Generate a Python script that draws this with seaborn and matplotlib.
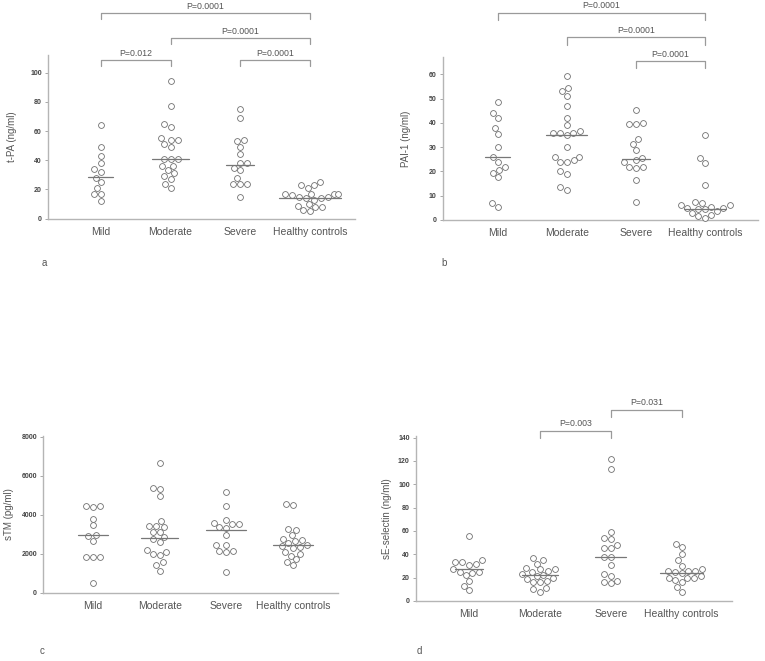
import numpy as np
import pandas as pd
import seaborn as sns
import matplotlib
matplotlib.use("Agg")
import matplotlib.pyplot as plt

groups = ["Mild", "Moderate", "Severe", "Healthy controls"]

# a: t-PA (ng/ml)
tpa_mild = [64, 49, 43, 38, 34, 32, 28, 25, 21, 17, 17, 12]
tpa_moderate = [94, 77, 65, 63, 55, 54, 54, 51, 49, 41, 41, 41, 36, 36, 33, 31, 29, 27, 24, 21]
tpa_severe = [75, 69, 54, 53, 49, 44, 38, 38, 35, 33, 28, 24, 24, 24, 15]
tpa_healthy = [25, 23, 23, 21, 17, 17, 17, 17, 16, 15, 15, 14, 14, 13, 10, 9, 8, 8, 6, 5]
tpa_median = [28.5, 41, 37, 14]

# b: PAI-1 (ng/ml)
pai_mild = [48.5, 44, 42, 38, 35.5, 30, 26, 24, 22, 20.5, 19.5, 17.5, 7, 5.5]
pai_moderate = [59.5, 54.5, 53, 51, 47, 42, 39, 36.5, 36, 36, 36, 35, 30, 26, 26, 24.5, 24, 24, 20, 19, 13.5, 12.5]
pai_severe = [45.5, 40, 39.5, 39.5, 33.5, 31.5, 29, 25.5, 24.5, 24, 22, 22, 21.5, 16.5, 7.5]
pai_healthy = [35, 25.5, 23.5, 14.5, 7.5, 7, 6, 6, 5.5, 5, 5, 4.5, 4.5, 3.5, 3, 2, 1.5, 1]
pai_median = [26, 35, 25, 4.7]

# c: sTM (pg/ml)
stm_mild = [4450, 4450, 4400, 3800, 3450, 2950, 2900, 2650, 1800, 1800, 1850, 500]
stm_moderate = [6650, 5350, 5300, 4950, 3650, 3400, 3400, 3350, 3100, 3100, 2850, 2750, 2600, 2200, 2100, 2000, 1950, 1550, 1400, 1100]
stm_severe = [5150, 4450, 3700, 3550, 3500, 3500, 3350, 3300, 2950, 2450, 2450, 2150, 2150, 2100, 1050]
stm_healthy = [4550, 4500, 3250, 3200, 2950, 2750, 2700, 2650, 2550, 2450, 2400, 2350, 2300, 2100, 2000, 1900, 1700, 1550, 1400]
stm_median = [2950, 2800, 3200, 2450]

# d: sE-selectin (ng/ml)
sel_mild = [56, 35, 33, 33, 32, 31, 27, 25, 25, 24, 22, 17, 13, 9]
sel_moderate = [37, 35, 32, 28, 27, 27, 26, 25, 23, 22, 21, 20, 19, 17, 16, 16, 11, 10, 8]
sel_severe = [122, 113, 59, 54, 53, 48, 45, 45, 38, 38, 31, 23, 21, 17, 16, 15]
sel_healthy = [49, 46, 40, 35, 30, 27, 26, 26, 26, 25, 24, 21, 20, 20, 20, 18, 16, 12, 8]
sel_median = [27, 22, 38, 24]


def long_df(*cols):
    rows = []
    for g, vals in zip(groups, cols):
        rows += [(g, v) for v in vals]
    return pd.DataFrame(rows, columns=["group", "value"])


sns.set_style("white")
plt.rcParams["font.family"] = ["Liberation Sans", "DejaVu Sans"]

GRAY = "#9a9a9a"
TXT = "#555555"

fig = plt.figure(figsize=(7.65, 6.61), dpi=100)

panels = [
    # data, medians, rect, xlim, ylim, yticks, ylabel, label_x, median half widths
    (long_df(tpa_mild, tpa_moderate, tpa_severe, tpa_healthy), tpa_median,
     [0.0627, 0.6691, 0.401, 0.2477], (-0.757, 3.64), (0, 112), np.arange(0, 101, 20),
     "t-PA (ng/ml)", -0.10, [0.18, 0.26, 0.2, 0.45]),
    (long_df(pai_mild, pai_moderate, pai_severe, pai_healthy), pai_median,
     [0.579, 0.6672, 0.4118, 0.2461], (-0.793, 3.77), (0, 67), np.arange(0, 61, 10),
     "PAI-1 (ng/ml)", -0.10, [0.18, 0.3, 0.2, 0.3]),
    (long_df(stm_mild, stm_moderate, stm_severe, stm_healthy), stm_median,
     [0.0566, 0.1036, 0.385, 0.2368], (-0.744, 3.67), (0, 8040), np.arange(0, 8001, 2000),
     "sTM (pg/ml)", -0.10, [0.22, 0.28, 0.3, 0.3]),
    (long_df(sel_mild, sel_moderate, sel_severe, sel_healthy), sel_median,
     [0.5438, 0.0908, 0.4127, 0.2496], (-0.748, 3.705), (0, 141.4), np.arange(0, 141, 20),
     "sE-selectin (ng/ml)", -0.075, [0.2, 0.25, 0.22, 0.3]),
]

axes = []
for df, med, rect, xl, yl, yt, ylab, lx, hw in panels:
    ax = fig.add_axes(rect)
    sns.swarmplot(data=df, x="group", y="value", order=groups, ax=ax, size=4.2,
                  color="white", edgecolor="#707070", linewidth=0.6, clip_on=False)
    for i, m in enumerate(med):
        ax.plot([i - hw[i], i + hw[i]], [m, m], color="#777777", lw=0.9, zorder=3)
    ax.set_xlim(*xl)
    ax.set_ylim(*yl)
    ax.set_yticks(yt)
    ax.set_yticklabels([str(int(t)) for t in yt], fontsize=5, fontweight="bold", color="#444444")
    ax.set_xlabel("")
    ax.set_ylabel(ylab, fontsize=7, color=TXT)
    ax.yaxis.set_label_coords(lx, 0.5)
    ax.tick_params(axis="x", length=0, pad=6, labelsize=7.5, labelcolor=TXT)
    ax.tick_params(axis="y", length=2.5, width=0.6, color=GRAY, pad=2, left=True)
    for s in ["top", "right"]:
        ax.spines[s].set_visible(False)
    for s in ["left", "bottom"]:
        ax.spines[s].set_color("#b5b5b5")
        ax.spines[s].set_linewidth(1.0)
    axes.append(ax)


def bracket(ax, x1, x2, y, drop, text, off):
    ax.plot([x1, x1, x2, x2], [y - drop, y, y, y - drop], color=GRAY, lw=0.9, clip_on=False)
    ax.text((x1 + x2) / 2, y + off, text, ha="center", va="bottom", fontsize=6.3, color=TXT, clip_on=False)


ax_a, ax_b, ax_c, ax_d = axes
bracket(ax_a, 0, 1, 108.7, 4.5, "P=0.012", 1.5)
bracket(ax_a, 2, 3, 108.7, 4.5, "P=0.0001", 1.5)
bracket(ax_a, 1, 3, 123.8, 4.5, "P=0.0001", 1.5)
bracket(ax_a, 0, 3, 140.9, 4.5, "P=0.0001", 1.5)

bracket(ax_b, 2, 3, 65.4, 3.0, "P=0.0001", 1.0)
bracket(ax_b, 1, 3, 75.2, 3.0, "P=0.0001", 1.0)
bracket(ax_b, 0, 3, 85.3, 3.0, "P=0.0001", 1.0)

bracket(ax_d, 1, 2, 146, 6.5, "P=0.003", 2.0)
bracket(ax_d, 2, 3, 164, 6.5, "P=0.031", 2.0)

for lab, x, y in [("a", 0.055, 0.597), ("b", 0.5765, 0.597), ("c", 0.052, 0.01), ("d", 0.544, 0.01)]:
    fig.text(x, y, lab, fontsize=7, color=TXT)

fig.savefig("out.png", dpi=100)
